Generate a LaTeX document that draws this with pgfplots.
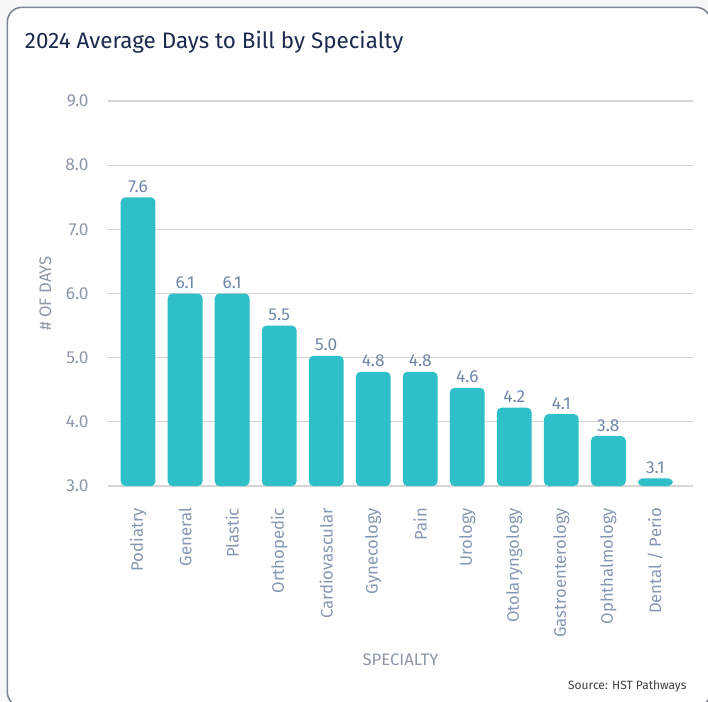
\documentclass[border=0pt]{standalone}
\usepackage{pgfplots}
\pgfplotsset{compat=1.18}
\usepackage{fontspec}
\setmainfont{Fira Sans}
\definecolor{barc}{HTML}{2EBFC8}
\definecolor{titlec}{HTML}{1C2B4F}
\definecolor{tickc}{HTML}{8E97A8}
\definecolor{valc}{HTML}{7388A8}
\definecolor{catc}{HTML}{8597B2}
\definecolor{gridc}{HTML}{D5D5D5}
\definecolor{cardc}{HTML}{7D8592}
\definecolor{pagec}{HTML}{F7F7F7}
\begin{document}
\begin{tikzpicture}
% page is 708x701 px, 1 px = 0.75pt
\useasboundingbox (0,0) rectangle (531pt,-525.75pt);
\fill[pagec] (0,0) rectangle (531pt,-525.75pt);
\begin{scope}
\clip (0,0) rectangle (531pt,-525.75pt);
\draw[cardc, line width=1.2pt, fill=white, rounded corners=11pt]
  (5.5pt,-5.5pt) rectangle (533pt,-530pt);
\end{scope}
\node[anchor=base west, text=titlec, font=\fontsize{16.8}{19}\selectfont, inner sep=0pt]
  at (18.5pt,-36pt) {2024 Average Days to Bill by Specialty};
\node[anchor=base east, text=black!75, font=\fontsize{9}{11}\selectfont, inner sep=0pt]
  at (515pt,-517pt) {Source: HST Pathways};
\begin{axis}[
    at={(81pt,-364.5pt)}, anchor=south west,
    scale only axis, width=438.75pt, height=288.75pt,
    ybar, bar width=0.74,
    xmin=-0.64, xmax=11.8,
    ymin=3, ymax=9,
    ytick={3,4,5,6,7,8,9},
    /pgf/number format/fixed,
    /pgf/number format/fixed zerofill,
    /pgf/number format/precision=1,
    /pgf/number format/assume math mode=true,
    xtick=data,
    xticklabels={Podiatry, General, Plastic, Orthopedic, Cardiovascular, Gynecology, Pain, Urology, Otolaryngology, Gastroenterology, Ophthalmology, Dental / Perio},
    xticklabel style={rotate=90, anchor=east, text=catc, font=\fontsize{12.5}{14}\selectfont},
    yticklabel style={text=tickc, font=\fontsize{13}{15}\selectfont},
    xticklabel shift=13pt, yticklabel shift=11pt,
    major tick length=0pt,
    axis line style={draw=none},
    ymajorgrids, grid style={gridc, line width=0.9pt},
    ylabel={\# OF DAYS},
    ylabel style={at={(axis description cs:-0.107,0.5)}, anchor=center, rotate=0, text=tickc, font=\fontsize{12.5}{14}\selectfont},
    xlabel={SPECIALTY},
    xlabel style={at={(axis description cs:0.5,-0.452)}, anchor=center, text=tickc, font=\fontsize{12.5}{14}\selectfont},
    point meta=explicit symbolic,
    nodes near coords,
    nodes near coords style={text=valc, font=\fontsize{13}{15}\selectfont, anchor=south, yshift=0pt},
]
\addplot[fill=barc, draw=none, rounded corners=3.5pt] coordinates {
    (0,7.5) [7.6]
    (1,6.0) [6.1]
    (2,6.0) [6.1]
    (3,5.5) [5.5]
    (4,5.03) [5.0]
    (5,4.78) [4.8]
    (6,4.78) [4.8]
    (7,4.53) [4.6]
    (8,4.22) [4.2]
    (9,4.12) [4.1]
    (10,3.78) [3.8]
    (11,3.12) [3.1]
};
\end{axis}
\end{tikzpicture}
\end{document}
